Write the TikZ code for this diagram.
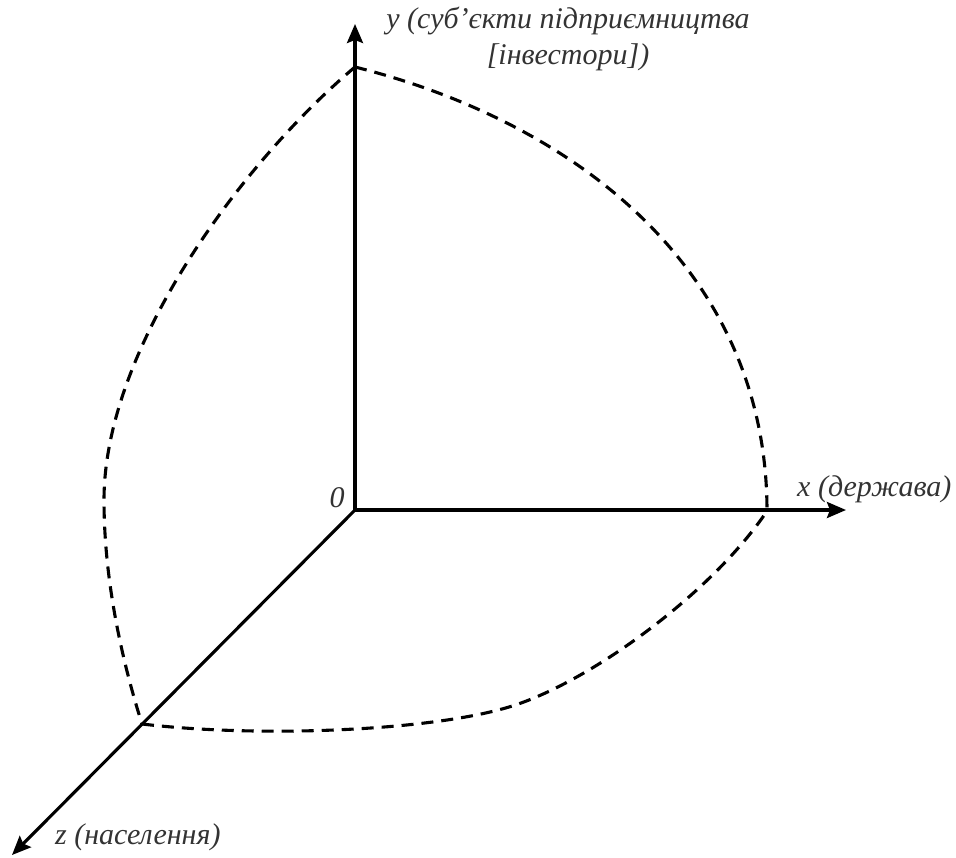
\documentclass[tikz,border=0pt]{standalone}
\usepackage{fontspec}
\setmainfont{Liberation Serif}
\usetikzlibrary{arrows.meta}
\begin{document}
\begin{tikzpicture}[x=1pt,y=-1pt,
  axis/.style={line width=3.1pt,-{Stealth[length=19pt,width=16pt,inset=3pt]}},
  arcline/.style={line width=3.1pt,dash pattern=on 12pt off 8pt},
  lbl/.style={font=\itshape\fontsize{30}{36}\selectfont,inner sep=0pt,text=black!80}]
\useasboundingbox (0,0) rectangle (956,857);
\coordinate (O) at (355,510);
\coordinate (Ytip) at (355,24);
\coordinate (Xtip) at (846,510);
\coordinate (Ztip) at (12,855);
\coordinate (Ytop) at (355,67);
\coordinate (Xr) at (767,511);
\coordinate (Zc) at (142,724);
\coordinate (Lm) at (104,500);
\coordinate (Bm) at (509,707);
\draw[axis] (O) -- (Ytip);
\draw[axis] (O) -- (Xtip);
\draw[axis] (O) -- (Ztip);
% y-x arc
\draw[arcline] (Ytop) .. controls (575,122) and (767,270) .. (Xr);
% y-z arc
\draw[arcline] (Ytop) .. controls (240,164) and (104,350) .. (Lm)
               .. controls (104,585) and (124,667) .. (Zc);
% z-x arc
\draw[arcline] (Zc) .. controls (260,738) and (429,731) .. (Bm)
               .. controls (589,683) and (712,593) .. (Xr);
\node[lbl,align=center] (ylab) at (568,39) {y (суб’єкти підприємництва\\{[}інвестори{]})};
\node[lbl,anchor=west] (xlab) at (797,489) {x (держава)};
\node[lbl,anchor=west] (zlab) at (55,837) {z (населення)};
\node[lbl] (olab) at (337,498) {0};
\end{tikzpicture}
\end{document}
